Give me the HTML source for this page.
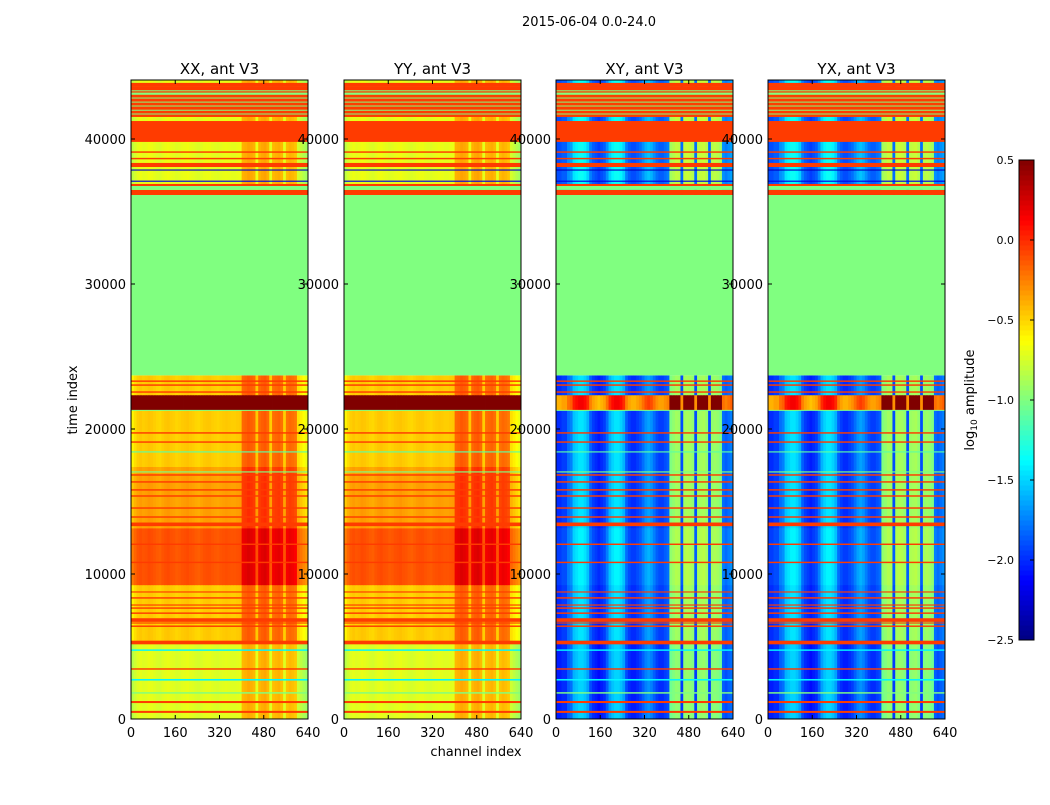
<!DOCTYPE html>
<html><head><meta charset="utf-8"><style>
body{margin:0;background:#fff;width:1050px;height:800px;overflow:hidden}
svg text{font-family:"DejaVu Sans","Liberation Sans",sans-serif;fill:#000}
</style></head><body>
<svg id="fig" width="1050" height="800" xmlns="http://www.w3.org/2000/svg">
<text x="589" y="26" font-size="13" text-anchor="middle">2015-06-04 0.0-24.0</text>
<text x="77" y="400" font-size="13" text-anchor="middle" transform="rotate(-90 77 400)">time index</text>
<text x="476" y="756" font-size="13" text-anchor="middle">channel index</text>
<text x="974" y="400" font-size="13" text-anchor="middle" transform="rotate(-90 974 400)">log<tspan font-size="9" dy="3">10</tspan><tspan dy="-3"> amplitude</tspan></text>
</svg>
<script>
const panelTitles=["XX, ant V3","YY, ant V3","XY, ant V3","YX, ant V3"];
const panelIsCross=[false,false,true,true];
const xTicks=[0,160,320,480,640];
const yTicks=[0,10000,20000,30000,40000];
const cbTicks=[0.5,0.0,-0.5,-1.0,-1.5,-2.0,-2.5];
// channel profiles (64 bins of 10 channels), log10 amplitude
const parallelProfile=[-0.12,-0.05,0,0.02,0,0.01,0.03,0.02,0,-0.02,-0.03,0,0.02,0.03,0.01,0,-0.02,-0.01,0.01,0.02,0.03,0.01,0,-0.02,-0.03,-0.01,0.01,0.02,0.02,0,-0.01,-0.02,0,0.01,0.02,0.01,0,0,0.01,0.02,
0.3,0.32,0.35,0.33,0.3,0.02,0.3,0.33,0.35,0.3,0.0,0.28,0.3,0.32,0.28,0.0,0.27,0.3,0.28,0.25,-0.05,-0.1,-0.15,-0.2];
const crossProfile=[-2.0,-2.0,-1.95,-1.95,-1.8,-1.75,-1.55,-1.5,-1.45,-1.45,-1.5,-1.6,-1.85,-1.95,-2.0,-2.05,-2.0,-1.95,-1.8,-1.6,-1.5,-1.45,-1.45,-1.5,-1.6,-1.85,-1.95,-2.0,-2.0,-1.95,-1.9,-1.8,-1.7,-1.65,-1.7,-1.8,-1.9,-1.95,-1.95,-1.9,-1.85,
-1.0,-0.95,-0.9,-0.92,-1.9,-0.9,-0.88,-0.9,-0.95,-1.9,-0.92,-0.9,-0.88,-0.95,-1.9,-0.95,-0.92,-0.95,-1.0,-1.8,-1.85,-1.8,-1.75];
// band levels [parallel offset, cross offset]
const levelNames=["l","n","h","o","x","u"];
const levelPar=[-0.72,-0.48,-0.12,-0.35,1.5,-0.7];
const levelCross=[-0.05,0,0.05,0,1.6,0.1];
// base regions [t0,t1,level]
const baseRegions=[[0,5200,"l"],[5200,9250,"n"],[9250,13170,"h"],[13170,17400,"o"],[17400,21300,"n"],[21300,22350,"x"],[22350,23700,"n"],[36140,44070,"u"]];
// flagged rows [t0,t1,value]
const flagRows=[[23700,36140,-1.0],[420,560,-0.05],[1100,1240,-0.05],[1750,1850,-1.0],[2650,2760,-1.4],[3400,3500,-0.05],[4700,4800,-1.4],[5150,5400,-0.05],[6350,6450,-0.05],[6580,6660,-0.05],[6700,6950,-0.05],[7250,7350,-0.05],[7600,7700,-0.05],[7820,7900,-0.05],[8300,8400,-0.05],[8720,8800,-0.05],[10750,10850,-0.05],[12000,12100,-0.05],[13300,13550,-0.05],[13880,13980,-0.05],[14500,14600,-0.05],[15330,15430,-0.05],[15750,15850,-0.05],[16300,16400,-0.05],[16780,16880,-0.05],[17000,17080,-1.0],[18380,18460,-1.1],[19050,19150,-0.05],[19680,19780,-0.05],[21250,21320,-1.0],[22500,22600,-0.05],[22980,23080,-0.05],[23250,23350,-0.05],
[36140,36490,-0.05],[36490,36760,-1.0],[36760,36900,-0.05],[37050,37130,-2.2],[37820,37900,-2.3],[38070,38350,-0.05],[38600,38700,-0.05],[39050,39150,-0.05],[39800,41240,-0.05],[41520,43590,-0.05],[41700,41760,-1],[41950,42020,-1],[42250,42310,-1],[42520,42580,-1],[42800,42860,-1],[43050,43200,-1],[43300,43360,-1],[43590,43870,-0.05]];

const NS="http://www.w3.org/2000/svg";
const svg=document.getElementById("fig");
const L=[131,344,556,768],W=177,TOP=80,BOT=719,TMAX=44070,CMAX=640,VMIN=-2.5,VMAX=0.5;
function xs(p,c){return L[p]+c/CMAX*W;}
function ys(t){return BOT-t/TMAX*(BOT-TOP);}
function clip(v){return Math.max(0,Math.min(1,v));}
function jet(v){const x=clip((v-VMIN)/(VMAX-VMIN));
 const r=clip(1.5-Math.abs(4*x-3)),g=clip(1.5-Math.abs(4*x-2)),b=clip(1.5-Math.abs(4*x-1));
 return `rgb(${Math.round(r*255)},${Math.round(g*255)},${Math.round(b*255)})`;}
function mk(tag,attrs,parent){const e=document.createElementNS(NS,tag);for(const k in attrs)e.setAttribute(k,attrs[k]);(parent||svg).appendChild(e);return e;}

for(let p=0;p<4;p++){
 const g=mk("g",{});
 
 
 const prof=panelIsCross[p]?crossProfile:parallelProfile;
 const nb=prof.length,bw=CMAX/nb;
 baseRegions.forEach(r=>{
  const li=levelNames.indexOf(r[2]);
  const off=panelIsCross[p]?levelCross[li]:levelPar[li];
  for(let b=0;b<nb;b++){
   const v=prof[b]+off;
   const x0=xs(p,b*bw),x1=xs(p,(b+1)*bw);
   const rc=mk("rect",{x:x0.toFixed(2),y:ys(r[1]).toFixed(2),width:(x1-x0+0.4).toFixed(2),height:(ys(r[0])-ys(r[1])+0.3).toFixed(2),fill:jet(v)},g);
   
   
  }
 });
 flagRows.forEach(f=>{
  const rc=mk("rect",{x:L[p],y:ys(f[1]).toFixed(2),width:W,height:Math.max(1,ys(f[0])-ys(f[1])).toFixed(2),fill:jet(f[2])},g);
  
  
 });
 const fr=mk("rect",{x:L[p],y:TOP,width:W,height:BOT-TOP,fill:"none",stroke:"#000","stroke-width":1});
 
 
 const tt=mk("text",{x:L[p]+W/2,y:74,"font-size":15,"text-anchor":"middle"});
 tt.textContent=panelTitles[p];
 
 
 xTicks.forEach(c=>{const x=xs(p,c);
  mk("line",{x1:x,x2:x,y1:BOT,y2:BOT-4,stroke:"#000"});
  mk("line",{x1:x,x2:x,y1:TOP,y2:TOP+4,stroke:"#000"});
  const t=mk("text",{x:x,y:737,"font-size":13,"text-anchor":"middle"});t.textContent=c;
  
  
 });
 yTicks.forEach(v=>{const y=ys(v);
  mk("line",{x1:L[p],x2:L[p]+4,y1:y,y2:y,stroke:"#000"});
  mk("line",{x1:L[p]+W,x2:L[p]+W-4,y1:y,y2:y,stroke:"#000"});
  const t=mk("text",{x:L[p]-5,y:y+5,"font-size":13,"text-anchor":"end"});t.textContent=v;
  
  
 });
}
// colorbar
const CBX=1019,CBW=15,CBT=160,CBB=640,N=96;
const cb=mk("g",{});


for(let i=0;i<N;i++){const v0=VMIN+(VMAX-VMIN)*i/N;const y1=CBB-(CBB-CBT)*i/N,y0=CBB-(CBB-CBT)*(i+1)/N;
 mk("rect",{x:CBX,y:y0.toFixed(2),width:CBW,height:(y1-y0+0.5).toFixed(2),fill:jet(v0+(VMAX-VMIN)/N/2)},cb);}
mk("rect",{x:CBX,y:CBT,width:CBW,height:CBB-CBT,fill:"none",stroke:"#000"},cb);
cbTicks.forEach(v=>{const y=CBB-(v-VMIN)/(VMAX-VMIN)*(CBB-CBT);
 mk("line",{x1:CBX+CBW,x2:CBX+CBW-4,y1:y,y2:y,stroke:"#000"},cb);
 const t=mk("text",{x:CBX-5,y:y+4,"font-size":11,"text-anchor":"end"},cb);t.textContent=v.toFixed(1).replace("-","\u2212");
 
 
});
</script>
</body></html>
